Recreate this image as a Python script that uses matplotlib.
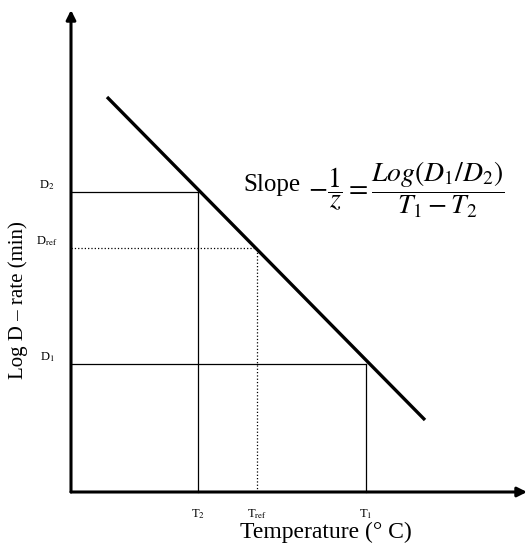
import matplotlib
matplotlib.use("Agg")
import matplotlib.pyplot as plt

plt.rcParams['mathtext.fontset'] = 'stix'
plt.rcParams['font.family'] = ['Liberation Serif', 'DejaVu Serif']

# Data (arbitrary units, origin at axes crossing)
line_T = [36, 354]
line_logD = [395, 72]
temps = [127, 186, 295]           # T2, Tref, T1
logD = [300, 244, 128]            # D2, Dref, D1
t_labels = [r'T$_2$', r'T$_{\mathrm{ref}}$', r'T$_1$']
d_labels = [r'D$_2$', r'D$_{\mathrm{ref}}$', r'D$_1$']
styles = ['-', ':', '-']
x_max, y_max = 456, 482

fig = plt.figure(figsize=(5.28, 5.5), dpi=100)
ax = fig.add_axes([0, 0, 1, 1])
ax.set_xlim(-71, 457)
ax.set_ylim(-58, 492)
ax.axis('off')

# axes with arrows
ax.annotate('', xy=(x_max, 0), xytext=(0, 0),
            arrowprops=dict(arrowstyle='-|>', lw=2.2, color='black', mutation_scale=14, shrinkA=0, shrinkB=0))
ax.annotate('', xy=(0, y_max), xytext=(0, 0),
            arrowprops=dict(arrowstyle='-|>', lw=2.2, color='black', mutation_scale=14, shrinkA=0, shrinkB=0))

# main line
ax.plot(line_T, line_logD, color='black', lw=2.4, solid_capstyle='butt')

# guide lines
for t, d, ls in zip(temps, logD, styles):
    ax.plot([0, t], [d, d], color='black', lw=0.9, ls=ls)
    ax.plot([t, t], [0, d], color='black', lw=0.9, ls=ls)

for t, lab in zip(temps, t_labels):
    ax.text(t, -22, lab, ha='center', va='center', fontsize=9)
for d, lab in zip(logD, d_labels):
    ax.text(-24, d + 7, lab, ha='center', va='center', fontsize=9)

ax.text(255, -40, 'Temperature (° C)', ha='center', va='center', fontsize=17)
ax.text(-53, 192, 'Log D – rate (min)', ha='center', va='center', fontsize=15, rotation=90)

ax.text(172, 307, 'Slope', ha='left', va='center', fontsize=18)
ax.text(237, 302, r'$-\dfrac{1}{z} = \dfrac{Log(D_1/D_2)}{T_1 - T_2}$', ha='left', va='center', fontsize=20)

fig.savefig('out.png', dpi=100)
